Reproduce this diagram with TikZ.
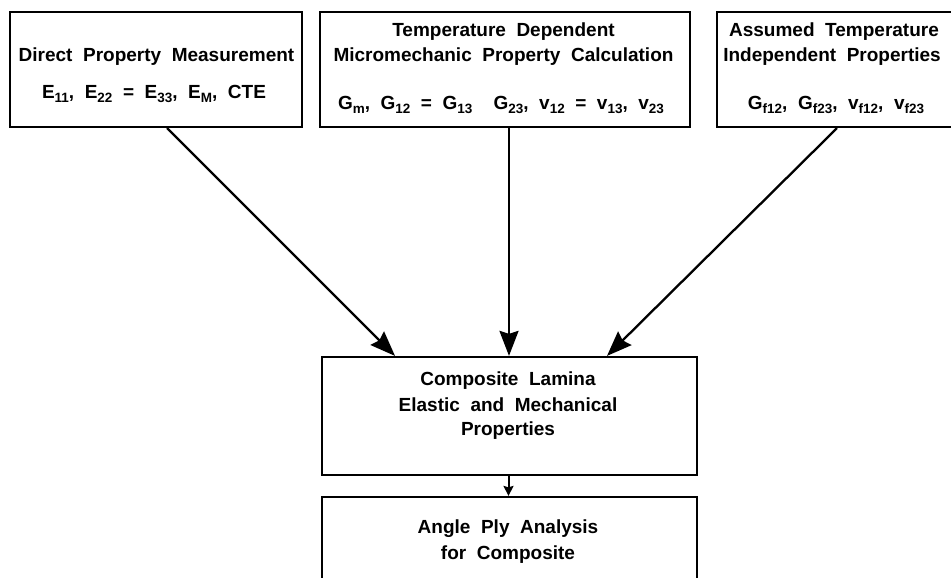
\documentclass[tikz,border=0pt]{standalone}
\usepackage{fontspec}
\setmainfont{Liberation Sans}[WordSpace=2]
\usetikzlibrary{arrows.meta}
\newcommand\subx[1]{\raisebox{-3.5pt}{\fontsize{13.5}{13.5}\selectfont #1}}
\newcommand\lblfont{\fontsize{19}{22}\selectfont\bfseries}
\begin{document}
\begin{tikzpicture}[x=1pt,y=-1pt,
  box/.style={draw, line width=2.2pt, inner sep=0pt},
  lbl/.style={inner sep=0pt, font=\lblfont, anchor=base},
  conn/.style={line width=2.3pt, -{Stealth[length=25pt,width=19pt,inset=3pt]}},
  smallconn/.style={line width=2pt, -{Stealth[length=10pt,width=10pt,inset=1.5pt]}}]
\clip (0,0) rectangle (951,578);
\fill[white] (0,0) rectangle (951,578);
% boxes
\node[box, minimum width=292pt, minimum height=115pt] (b1) at (156,69.5) {};
\node[box, minimum width=370pt, minimum height=115pt] (b2) at (505,69.5) {};
\node[box, minimum width=273pt, minimum height=115pt] (b3) at (853.5,69.5) {};
\node[box, minimum width=375pt, minimum height=118pt] (b4) at (509.5,416) {};
\node[box, minimum width=375pt, minimum height=110pt] (b5) at (509.5,552) {};
% labels
\node[lbl] (t1a) at (156.5,62) {Direct Property Measurement};
\node[lbl] (t1b) at (154,99) {E\subx{11}, E\subx{22} = E\subx{33}, E\subx{M}, CTE};
\node[lbl] (t2a) at (503.5,37) {Temperature Dependent};
\node[lbl] (t2b) at (503.5,62) {Micromechanic Property Calculation};
\node[lbl] (t2c) at (501,110) {G\subx{m}, G\subx{12} = G\subx{13}\ \ G\subx{23}, v\subx{12} = v\subx{13}, v\subx{23}};
\node[lbl] (t3a) at (834,37) {Assumed Temperature};
\node[lbl] (t3b) at (832,62) {Independent Properties};
\node[lbl] (t3c) at (836,110) {G\subx{f12}, G\subx{f23}, v\subx{f12}, v\subx{f23}};
\node[lbl] (t4a) at (508,385) {Composite Lamina};
\node[lbl] (t4b) at (508,411) {Elastic and Mechanical};
\node[lbl] (t4c) at (508,435) {Properties};
\node[lbl] (t5a) at (508,533) {Angle Ply Analysis};
\node[lbl] (t5b) at (508,559) {for Composite};
% connectors
\draw[conn] ([xshift=11pt]b1.south) -- ([xshift=-114.5pt]b4.north);
\draw[conn] ([xshift=4pt]b2.south) -- ([xshift=-0.5pt]b4.north);
\draw[conn] ([xshift=-16.5pt]b3.south) -- ([xshift=97.5pt]b4.north);
\draw[smallconn] ([xshift=-1pt]b4.south) -- ([xshift=-1pt]b5.north);
\end{tikzpicture}
\end{document}
